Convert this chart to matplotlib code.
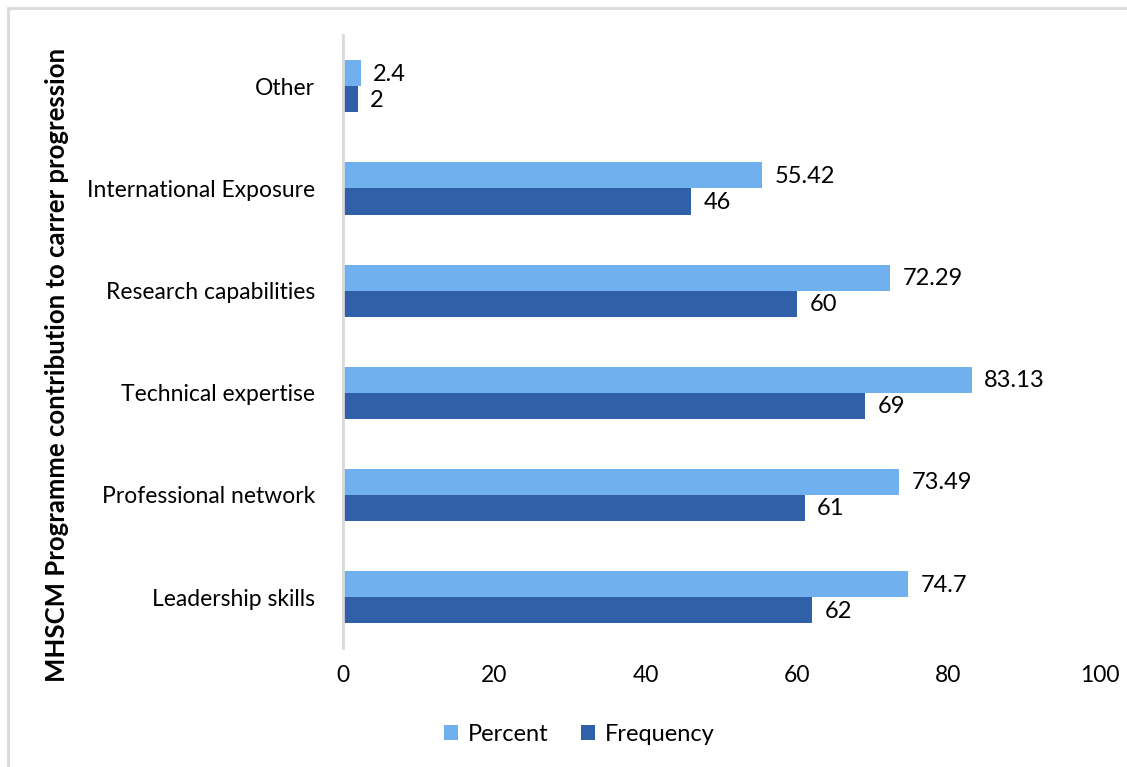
import matplotlib.pyplot as plt
import numpy as np
from matplotlib.patches import Rectangle

plt.rcParams['font.family'] = ['Lato', 'DejaVu Sans']

categories = ["Leadership skills", "Professional network", "Technical expertise",
              "Research capabilities", "International Exposure", "Other"]
percent = [74.7, 73.49, 83.13, 72.29, 55.42, 2.4]
frequency = [62, 61, 69, 60, 46, 2]

fig = plt.figure(figsize=(11.27, 7.67), dpi=100)
ax = fig.add_axes([0.3043, 0.155, 0.6717, 0.799])

y = np.arange(len(categories))
h = 0.255
bp = ax.barh(y + h / 2, percent, height=h, color="#70B0EE", label="Percent")
bf = ax.barh(y - h / 2, frequency, height=h, color="#3060A8", label="Frequency")

for bars, vals in ((bp, percent), (bf, frequency)):
    for b, v in zip(bars, vals):
        ax.text(b.get_width() + 1.6, b.get_y() + b.get_height() / 2 - 0.01, f"{v:g}",
                va="center", ha="left", fontsize=17, color="black")

ax.set_xlim(0, 100)
ax.set_ylim(-0.5, 5.5)
ax.set_xticks(range(0, 101, 20))
ax.set_yticks(y)
ax.set_yticklabels(categories)
ax.tick_params(axis="both", length=0, labelsize=16.5, colors="black")
ax.tick_params(axis="x", pad=12)
ax.tick_params(axis="y", pad=20)
for s in ("top", "right", "bottom"):
    ax.spines[s].set_visible(False)
ax.spines["left"].set_color("#D9D9D9")
ax.spines["left"].set_linewidth(2)

fig.text(0.051, 0.524, "MHSCM Programme contribution to carrer progression",
         rotation=90, ha="center", va="center", fontsize=18.5, fontweight="bold")

fig.legend(handles=[bp, bf], loc="center", bbox_to_anchor=(0.514, 0.043), ncol=2,
           frameon=False, fontsize=17, handlelength=0.6, handleheight=0.6,
           columnspacing=1.4, handletextpad=0.4)

# light frame around the chart area
fig.patches.append(Rectangle((0.007, -0.05), 1.1, 1.04, transform=fig.transFigure,
                             fill=False, edgecolor="#D9D9D9", linewidth=2))

fig.savefig("out.png", dpi=100)
